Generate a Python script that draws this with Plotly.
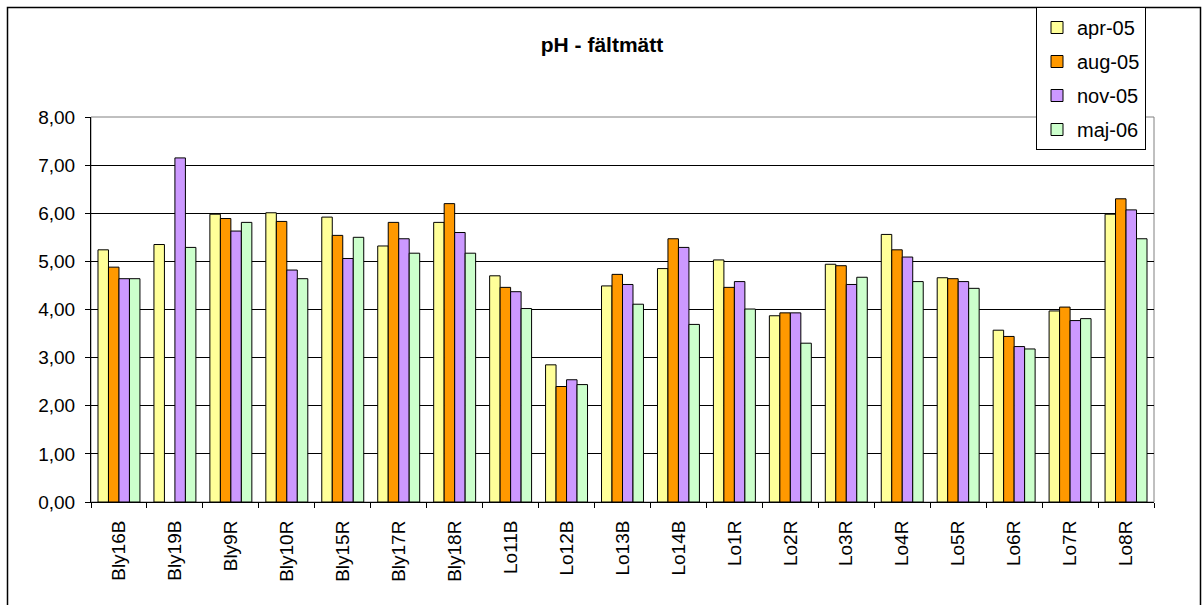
import plotly.graph_objects as go

categories = ["Bly16B", "Bly19B", "Bly9R", "Bly10R", "Bly15R", "Bly17R", "Bly18R",
              "Lo11B", "Lo12B", "Lo13B", "Lo14B", "Lo1R", "Lo2R", "Lo3R", "Lo4R",
              "Lo5R", "Lo6R", "Lo7R", "Lo8R"]

apr_05 = [5.24, 5.35, 5.98, 6.01, 5.92, 5.32, 5.81, 4.70, 2.85, 4.49, 4.85,
          5.03, 3.87, 4.94, 5.56, 4.66, 3.57, 3.97, 5.98]
aug_05 = [4.88, None, 5.89, 5.83, 5.54, 5.81, 6.20, 4.46, 2.40, 4.73, 5.47,
          4.46, 3.93, 4.91, 5.24, 4.64, 3.44, 4.05, 6.30]
nov_05 = [4.64, 7.15, 5.63, 4.82, 5.06, 5.47, 5.60, 4.37, 2.54, 4.52, 5.29,
          4.58, 3.93, 4.52, 5.09, 4.58, 3.23, 3.77, 6.07]
maj_06 = [4.64, 5.29, 5.81, 4.64, 5.50, 5.17, 5.17, 4.02, 2.44, 4.11, 3.69,
          4.01, 3.30, 4.67, 4.58, 4.44, 3.18, 3.81, 5.47]

series_names = ["apr-05", "aug-05", "nov-05", "maj-06"]
series_values = [apr_05, aug_05, nov_05, maj_06]
colors = ["#FFFF99", "#FF9900", "#CC99FF", "#CCFFCC"]

y_ticks = [0, 1, 2, 3, 4, 5, 6, 7, 8]

FONT = "Liberation Sans, Arial, sans-serif"

fig = go.Figure()
for name, vals, col in zip(series_names, series_values, colors):
    fig.add_trace(go.Bar(
        x=categories, y=vals, name=name, legendgroup=name,
        marker=dict(color=col, line=dict(color="#000000", width=1)),
    ))

W, H = 1202, 605
L, T = 91, 117
R = W - 1154
B = H - 502
pw = W - L - R
ph = H - T - B

def px_x(x):
    return (x - L) / pw

def px_y(y):
    return (H - B - y) / ph

fig.update_layout(
    width=W, height=H,
    margin=dict(l=L, r=R, t=T, b=B, autoexpand=False),
    paper_bgcolor="white", plot_bgcolor="white",
    barmode="group", bargap=0.25, bargroupgap=0,
    separators=", ",
    font=dict(family=FONT, size=19, color="black"),
    title=dict(text="<b>pH - fältmätt</b>", x=602 / W, xref="container",
               y=1 - 45 / H, yref="container", yanchor="middle", xanchor="center",
               font=dict(family=FONT, size=21, color="black")),
    legend=dict(x=px_x(1036), y=px_y(7), xanchor="left", yanchor="top",
                bgcolor="white", bordercolor="#000000", borderwidth=1,
                font=dict(family=FONT, size=20), tracegroupgap=5,
                itemwidth=30),
    xaxis=dict(type="category", tickangle=-90, tickson="boundaries",
               ticks="outside", ticklen=5, tickcolor="black",
               showline=True, linecolor="black", linewidth=1,
               showgrid=False, tickfont=dict(size=19), ticklabelstandoff=10),
    yaxis=dict(range=[0, 8], tickvals=y_ticks, tickformat=".2f",
               ticks="outside", ticklen=5, tickcolor="black",
               showline=True, linecolor="black", linewidth=1,
               showgrid=True, gridcolor="#000000", gridwidth=1,
               tickfont=dict(size=19), ticklabelstandoff=6, zeroline=False),
    shapes=[
        dict(type="rect", xref="paper", yref="paper", x0=0, x1=1, y0=0, y1=1,
             line=dict(color="#808080", width=1), layer="below"),
        dict(type="rect", xref="paper", yref="paper",
             x0=px_x(7.5), x1=px_x(1200.5), y0=px_y(640), y1=px_y(7.5),
             line=dict(color="#000000", width=1.5), layer="below"),
    ],
)

fig.write_html(
    "out.html",
    config={"displayModeBar": False},
    post_script="document.body.style.margin='0';document.body.style.overflow='hidden';",
)
